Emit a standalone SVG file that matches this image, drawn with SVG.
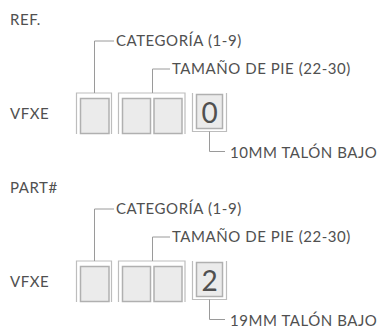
<svg xmlns="http://www.w3.org/2000/svg" width="382" height="329" viewBox="0 0 382 329">
<style>
text{font-family:Lato,"Open Sans","Liberation Sans",sans-serif;fill:#505050;font-size:15px;letter-spacing:0.55px}
.br{fill:none;stroke:#bdbdbd;stroke-width:1.2}
.box{fill:#ebebeb;stroke:#b0b0b0;stroke-width:1.5}
.con{fill:none;stroke:#9a9a9a;stroke-width:1}
.dig{font-size:28px;text-anchor:middle;letter-spacing:0}
</style>
<rect width="382" height="329" fill="#fff"/>
<g id="section1">
<text x="10" y="25">REF.</text>
<text x="10" y="119">VFXE</text>
<g id="cat1">
<path class="br" d="M76.5,134V93H111.5V134"/>
<rect class="box" x="80.5" y="98.5" width="28.5" height="35"/>
</g>
<g id="size1">
<path class="br" d="M118.5,134V93H185V134"/>
<rect class="box" x="122.5" y="98.5" width="28" height="35"/>
<rect class="box" x="154" y="98.5" width="28" height="35"/>
</g>
<g id="heel1">
<path class="br" d="M192.5,93V131.5H226.5V93"/>
<rect class="box" x="196.5" y="94.5" width="26" height="34"/>
<text class="dig" x="209.5" y="123">0</text>
</g>
<g id="connectors1">
<path class="con" d="M94.5,93V41H114"/>
<path class="con" d="M152.5,93V69H170"/>
<path class="con" d="M209.5,131.5V151.5H225"/>
</g>
<text x="116" y="46">CATEGORÍA (1-9)</text>
<text x="172" y="74">TAMAÑO DE PIE (22-30)</text>
<text x="230" y="158">10MM TALÓN BAJO</text>
</g>
<g id="section2" transform="translate(0,168)">
<text x="10" y="25">PART#</text>
<text x="10" y="119">VFXE</text>
<g id="cat2">
<path class="br" d="M76.5,134V93H111.5V134"/>
<rect class="box" x="80.5" y="98.5" width="28.5" height="35"/>
</g>
<g id="size2">
<path class="br" d="M118.5,134V93H185V134"/>
<rect class="box" x="122.5" y="98.5" width="28" height="35"/>
<rect class="box" x="154" y="98.5" width="28" height="35"/>
</g>
<g id="heel2">
<path class="br" d="M192.5,93V131.5H226.5V93"/>
<rect class="box" x="196.5" y="94.5" width="26" height="34"/>
<text class="dig" x="209.5" y="123">2</text>
</g>
<g id="connectors2">
<path class="con" d="M94.5,93V41H114"/>
<path class="con" d="M152.5,93V69H170"/>
<path class="con" d="M209.5,131.5V151.5H225"/>
</g>
<text x="116" y="46">CATEGORÍA (1-9)</text>
<text x="172" y="74">TAMAÑO DE PIE (22-30)</text>
<text x="230" y="158">19MM TALÓN BAJO</text>
</g>
</svg>
